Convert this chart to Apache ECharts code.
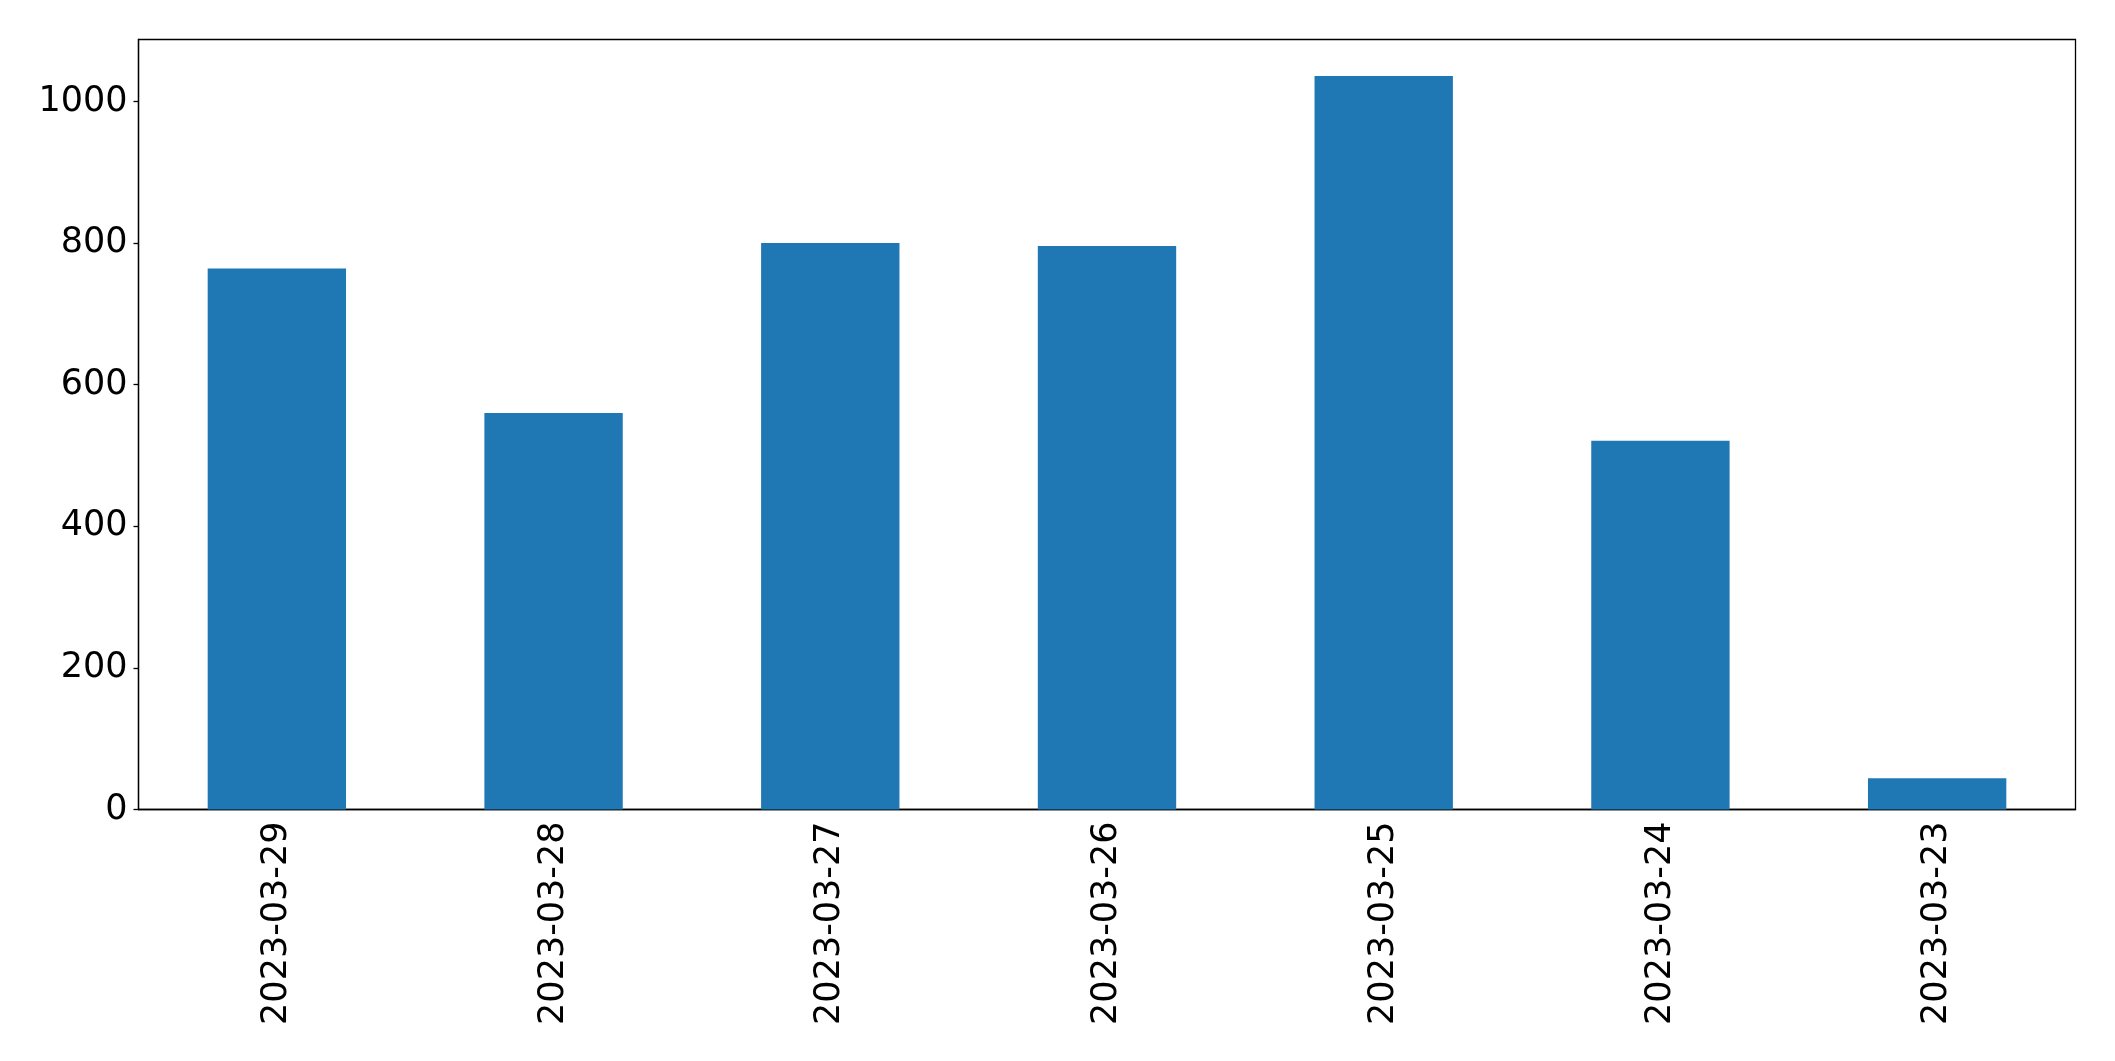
<!DOCTYPE html>
<html>
<head>
<meta charset="utf-8">
<script src="https://cdn.jsdelivr.net/npm/echarts@6/dist/echarts.min.js"></script>
<style>
html,body{margin:0;padding:0;background:#fff;}
#chart{width:2115px;height:1061px;}
</style>
</head>
<body>
<div id="chart"></div>
<script>
const categories = ['2023-03-29','2023-03-28','2023-03-27','2023-03-26','2023-03-25','2023-03-24','2023-03-23'];
const values = [764, 560, 800, 796, 1036, 521, 44];
const yTicks = [0, 200, 400, 600, 800, 1000];

const chart = echarts.init(document.getElementById('chart'));
chart.setOption({
  animation: false,
  backgroundColor: '#fff',
  grid: {
    left: 138.5, right: 39.5, top: 39.5, bottom: 251.5,
    show: true, borderColor: '#000', borderWidth: 1.3, backgroundColor: 'transparent'
  },
  xAxis: {
    type: 'category',
    data: categories,
    boundaryGap: true,
    axisLine: {lineStyle: {color: '#000', width: 1.3}},
    axisTick: {alignWithLabel: true, length: 5, lineStyle: {color: '#000', width: 1.3}},
    axisLabel: {rotate: 90, margin: 12, color: '#000', fontFamily: 'DejaVu Sans', fontSize: 35, interval: 0}
  },
  yAxis: {
    type: 'value',
    min: 0, max: 1087.6, interval: 200,
    splitLine: {show: false},
    axisLine: {show: true, lineStyle: {color: '#000', width: 1.3}},
    axisTick: {show: true, length: 5, lineStyle: {color: '#000', width: 1.3}},
    axisLabel: {
      margin: 11, color: '#000', fontFamily: 'DejaVu Sans', fontSize: 35,
      showMaxLabel: false,
      formatter: v => yTicks.includes(v) ? String(v) : ''
    }
  },
  series: [{
    type: 'bar',
    data: values,
    barWidth: '50%',
    itemStyle: {color: '#1f77b4'}
  }]
});
</script>
</body>
</html>
